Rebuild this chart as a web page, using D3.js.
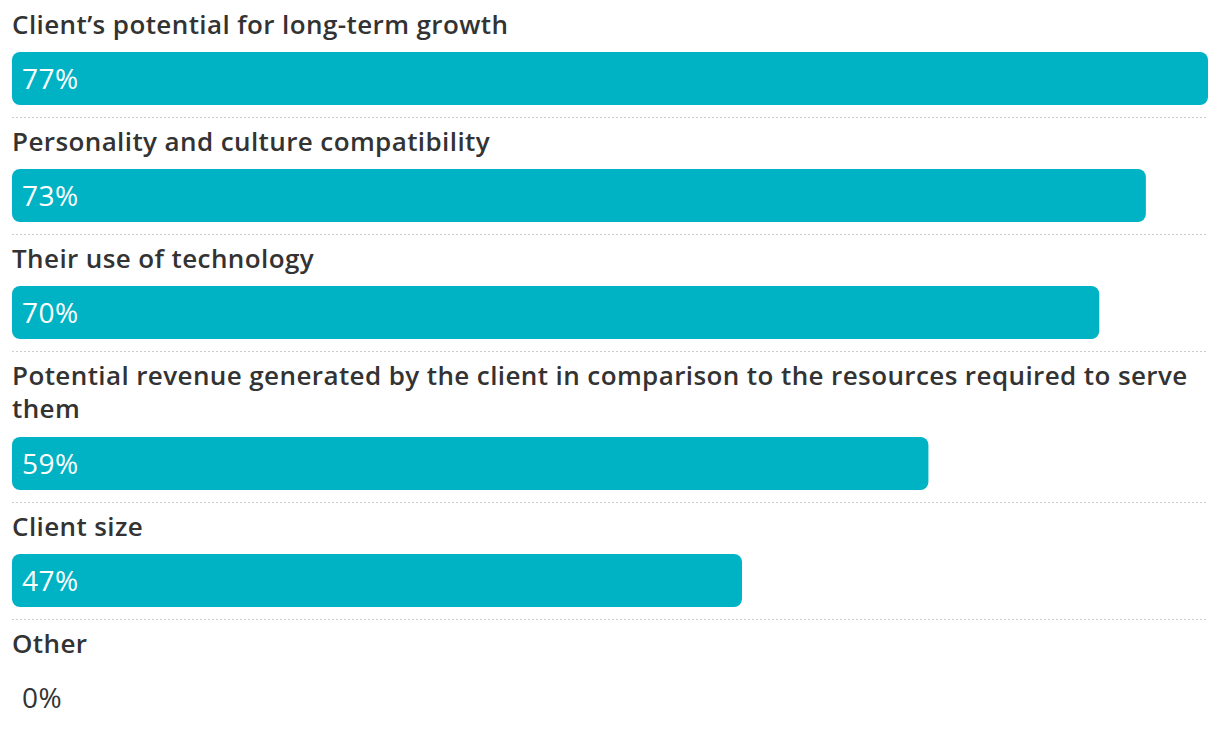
<!DOCTYPE html>
<html>
<head>
<meta charset="utf-8">
<script src="https://cdn.jsdelivr.net/npm/d3@7"></script>
<style>
        body { margin: 0; background: #fff; }
        text { font-family: "Open Sans", "Noto Sans", sans-serif; }
</style>
</head>
<body>
<script>
categories = [
        "Client\u2019s potential for long-term growth",
        "Personality and culture compatibility",
        "Their use of technology",
        "Potential revenue generated by the client in comparison to the resources required to serve them",
        "Client size",
        "Other"
]
values = [77, 73, 70, 59, 47, 0]

w = 1220
h = 738
left = 12
right = 1208
rowH = 117
lineH = 33
barTop = 52
barH = 53
barColor = "#00b3c4"
textColor = "#333333"

svg = d3.select("body").append("svg")
        .attr("width", w)
        .attr("height", h)

x = d3.scaleLinear()
        .domain([0, d3.max(values)])
        .range([left, right])

// split label into lines that fit the bar area
function wrap(textSel, label, maxW) {
        var words = label.split(" ")
        var lines = []
        var cur = []
        var tmp = textSel.append("tspan")
        words.forEach(function(wd) {
                cur.push(wd)
                tmp.text(cur.join(" "))
                if (tmp.node().getComputedTextLength() > maxW && cur.length > 1) {
                        cur.pop()
                        lines.push(cur.join(" "))
                        cur = [wd]
                }
        })
        lines.push(cur.join(" "))
        tmp.remove()
        lines.forEach(function(l, i) {
                textSel.append("tspan")
                        .attr("x", left)
                        .attr("dy", i == 0 ? 0 : lineH)
                        .text(l)
        })
        return lines.length
}

y0 = 0
categories.forEach(function(c, i) {
        var g = svg.append("g").attr("transform", "translate(0," + y0 + ")")

        var label = g.append("text")
                .attr("x", left)
                .attr("y", 34)
                .attr("fill", textColor)
                .attr("font-size", 26)
                .attr("font-weight", 600)
                .attr("letter-spacing", 0.4)
        var n = wrap(label, c, right - left - 10)
        var extra = (n - 1) * (lineH + 1)

        if (values[i] > 0) {
                g.append("rect")
                        .attr("x", x(0))
                        .attr("y", barTop + extra)
                        .attr("width", x(values[i]) - x(0))
                        .attr("height", barH)
                        .attr("rx", 8)
                        .attr("fill", barColor)
        }

        g.append("text")
                .attr("x", 22)
                .attr("y", barTop + extra + barH / 2 + 10)
                .attr("fill", values[i] > 0 ? "#ffffff" : textColor)
                .attr("font-size", 28)
                .attr("font-weight", 500)
                .attr("letter-spacing", 0.5)
                .text(values[i] + "%")

        if (i < categories.length - 1) {
                g.append("line")
                        .attr("x1", left)
                        .attr("x2", right)
                        .attr("y1", rowH + extra + 0.5)
                        .attr("y2", rowH + extra + 0.5)
                        .attr("stroke", "#cccccc")
                        .attr("stroke-width", 1.2)
                        .attr("stroke-dasharray", "2,2")
        }
        y0 += rowH + extra
})
</script>
</body>
</html>
